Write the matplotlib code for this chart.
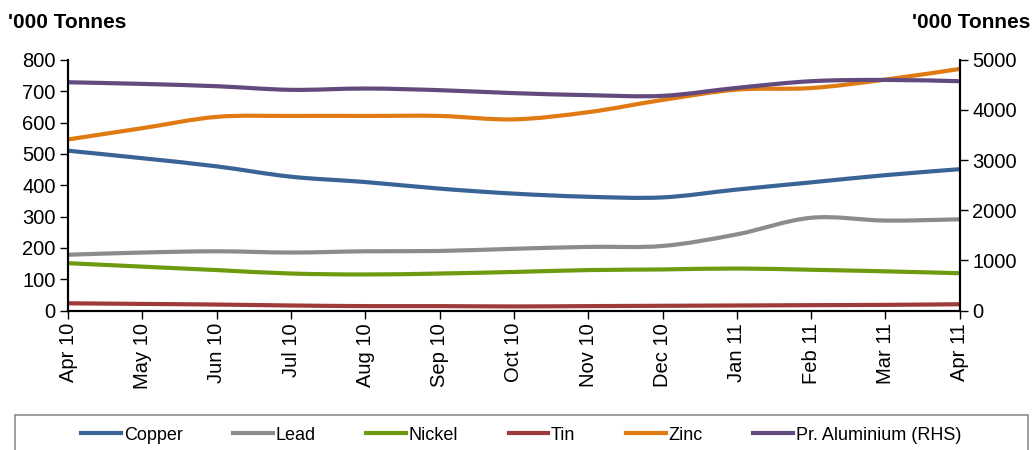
import numpy as np
import matplotlib.pyplot as plt
from matplotlib.path import Path
from matplotlib.patches import PathPatch, Rectangle
from matplotlib.lines import Line2D

plt.rcParams['font.family'] = ['Liberation Sans', 'DejaVu Sans']

months = ['Apr 10', 'May 10', 'Jun 10', 'Jul 10', 'Aug 10', 'Sep 10', 'Oct 10',
          'Nov 10', 'Dec 10', 'Jan 11', 'Feb 11', 'Mar 11', 'Apr 11']

copper = [510, 486, 460, 427, 410, 389, 373, 363, 361, 386, 409, 432, 451]
lead = [178, 185, 189, 185, 189, 190, 197, 203, 206, 243, 296, 287, 291]
nickel = [151, 140, 129, 118, 115, 118, 123, 129, 131, 134, 130, 125, 119]
tin = [23, 21, 19, 16, 14, 14, 13, 14, 15, 16, 17, 18, 20]
zinc = [546, 582, 618, 621, 621, 621, 610, 633, 672, 705, 710, 737, 771]
aluminium = [4553, 4520, 4474, 4402, 4428, 4395, 4336, 4296, 4282, 4441, 4574, 4600, 4574]

colors = {
    'Copper': '#3A6496',
    'Lead': '#8C8C8C',
    'Nickel': '#6E9A10',
    'Tin': '#9E3A38',
    'Zinc': '#E07A12',
    'Pr. Aluminium (RHS)': '#624A7E',
}


def smooth_path(x, y):
    # excel style smoothed line: cubic bezier through every point
    pts = np.column_stack([x, y]).astype(float)
    n = len(pts)
    verts = [pts[0]]
    codes = [Path.MOVETO]
    for i in range(n - 1):
        p0 = pts[max(i - 1, 0)]
        p1 = pts[i]
        p2 = pts[i + 1]
        p3 = pts[min(i + 2, n - 1)]
        c1 = p1 + (p2 - p0) / 6.0
        c2 = p2 - (p3 - p1) / 6.0
        verts += [c1, c2, p2]
        codes += [Path.CURVE4] * 3
    return Path(verts, codes)


fig = plt.figure(figsize=(10.32, 4.5), dpi=100)
ax = fig.add_axes([0.066, 0.31, 0.864, 0.557])
ax2 = ax.twinx()

x = np.arange(len(months))
lw = 3
for name, vals in [('Copper', copper), ('Lead', lead), ('Nickel', nickel),
                   ('Tin', tin), ('Zinc', zinc)]:
    ax.add_patch(PathPatch(smooth_path(x, vals), fill=False,
                           edgecolor=colors[name], lw=lw, capstyle='butt'))
ax2.add_patch(PathPatch(smooth_path(x, aluminium), fill=False,
                        edgecolor=colors['Pr. Aluminium (RHS)'], lw=lw, capstyle='butt'))

ax.set_xlim(0, len(months) - 1)
ax.set_ylim(0, 800)
ax2.set_ylim(0, 5000)
ax.set_yticks(range(0, 801, 100))
ax2.set_yticks(range(0, 5001, 1000))
ax.set_xticks(x)
ax.set_xticklabels(months, rotation=90)

for a in (ax, ax2):
    a.spines['top'].set_visible(False)
    for s in a.spines.values():
        s.set_linewidth(1.5)
ax.tick_params(axis='both', labelsize=14.5, length=6, width=1, pad=3)
ax2.tick_params(axis='y', labelsize=14.5, length=6, width=1, pad=3)

fig.text(0.008, 0.951, "'000 Tonnes", fontsize=15, fontweight='bold', va='center')
fig.text(0.998, 0.951, "'000 Tonnes", fontsize=15, fontweight='bold', va='center', ha='right')

handles = [Line2D([], [], color=c, lw=lw) for c in colors.values()]
fig.legend(handles, list(colors.keys()), loc='center', bbox_to_anchor=(0.505, 0.033),
           ncol=6, frameon=False, fontsize=13, handlelength=2.2, handletextpad=0.15,
           columnspacing=2.8)
fig.add_artist(Rectangle((15 / 1032, -0.05), (1028 - 15) / 1032, 0.05 + 1 - 415 / 450,
                         transform=fig.transFigure, fill=False, edgecolor='#8C8C8C', lw=1.2))

fig.savefig('out.png', dpi=100)
